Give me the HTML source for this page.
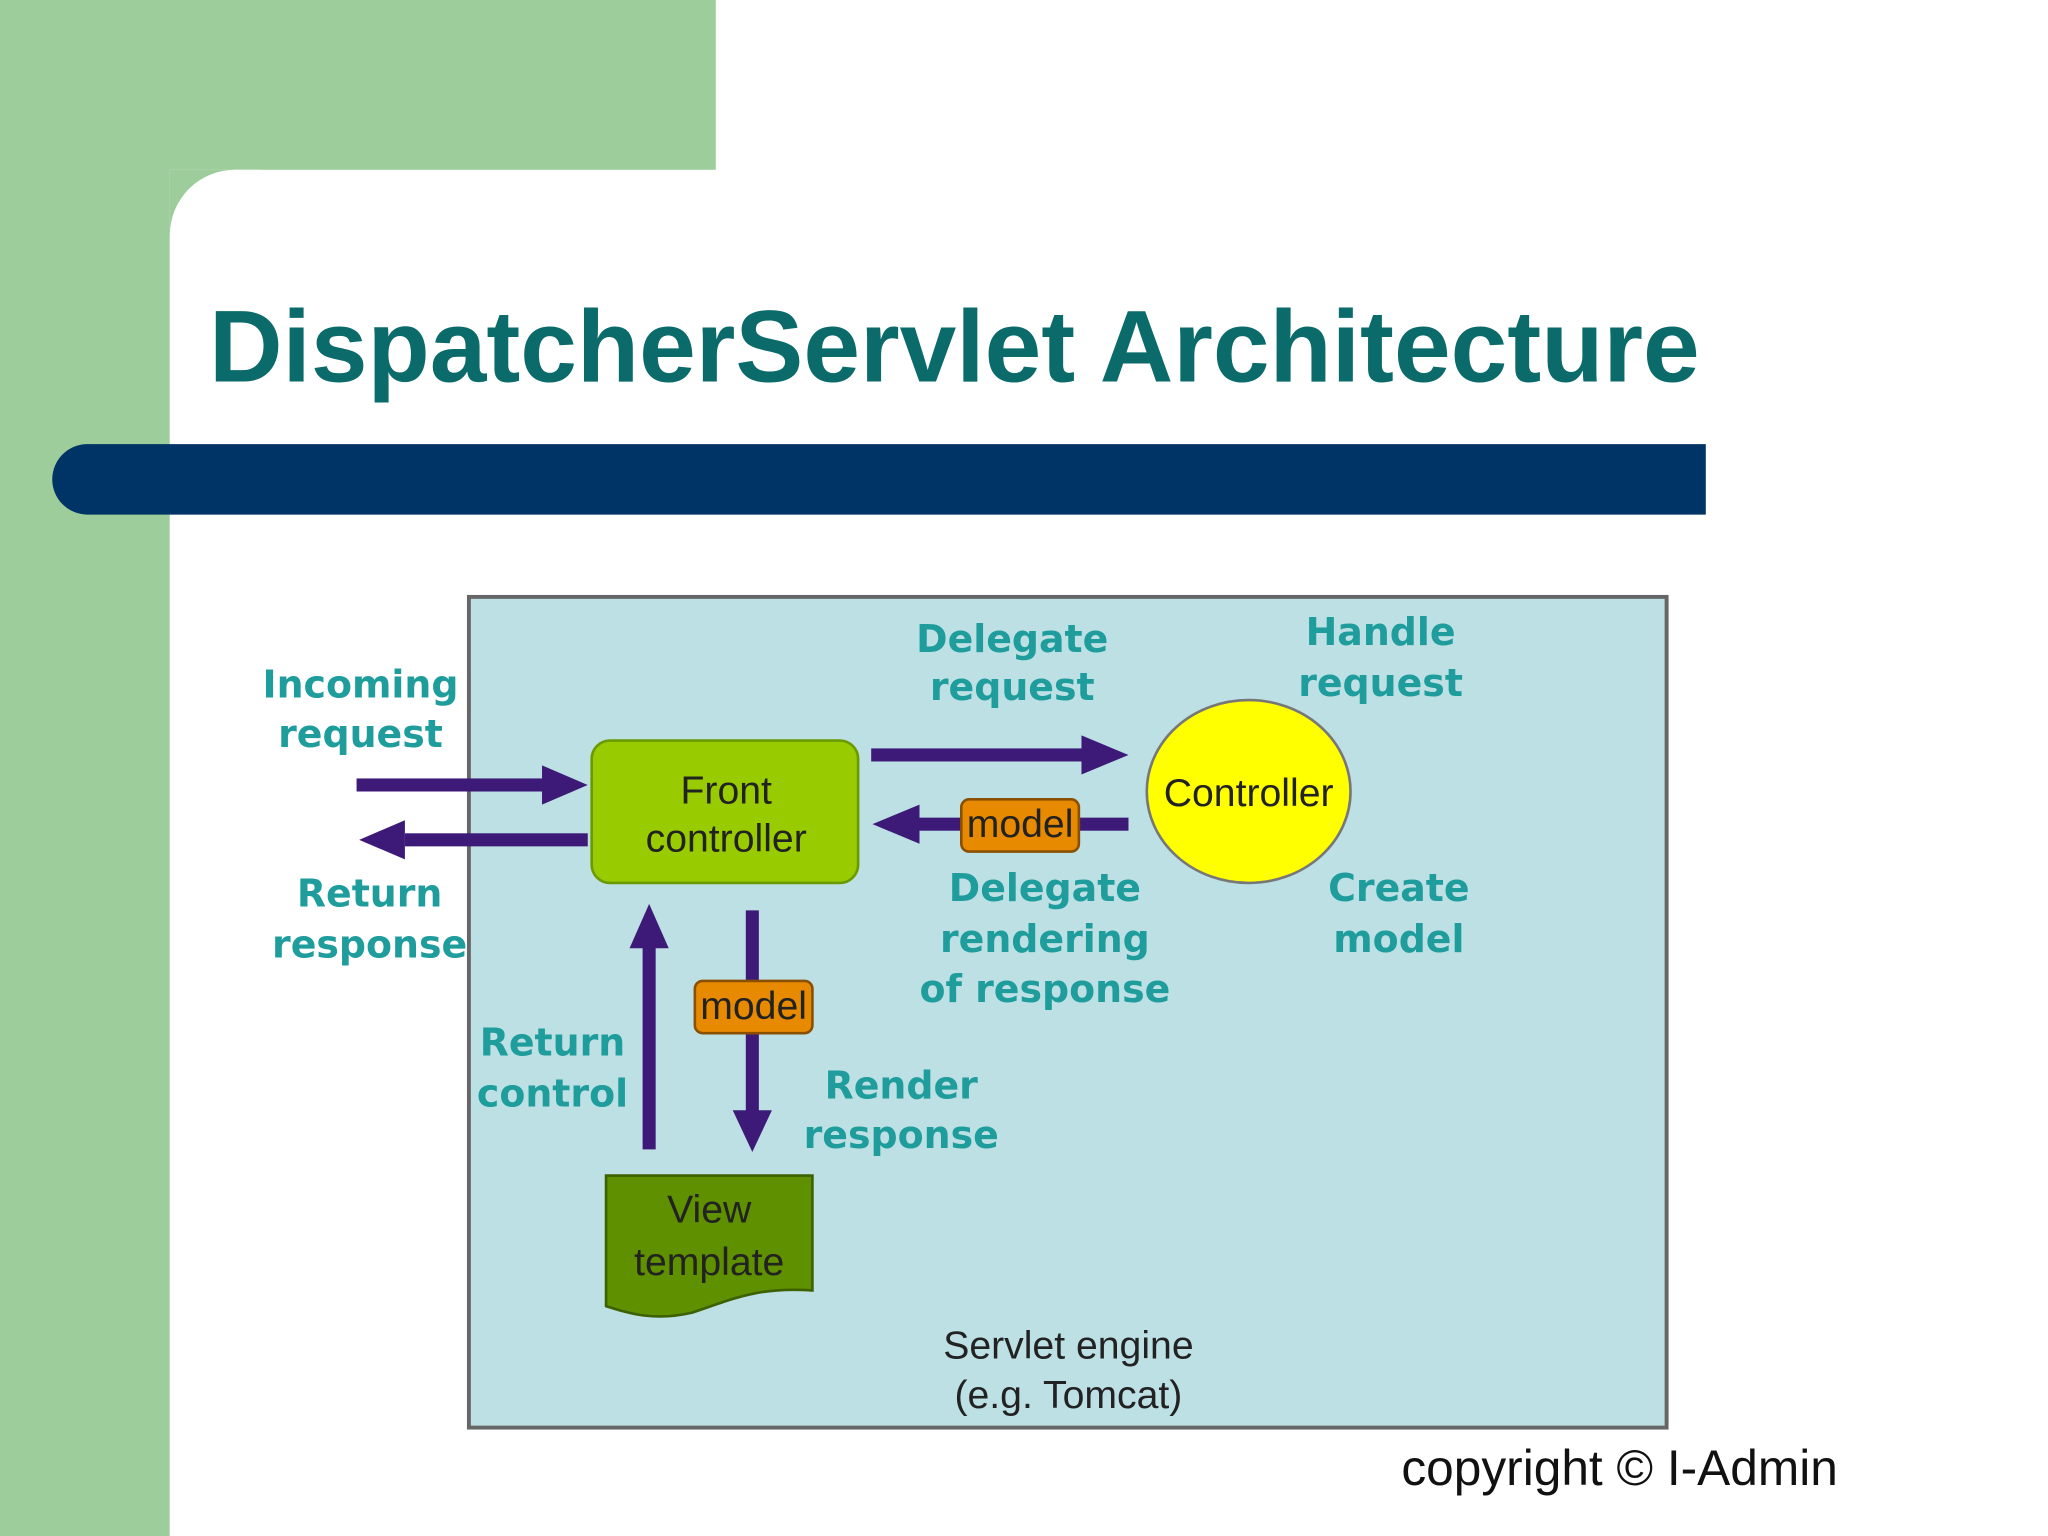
<!DOCTYPE html>
<html><head><meta charset="utf-8"><style>
html,body{margin:0;padding:0;background:#fff;}
svg{display:block;}
text{font-family:"Liberation Sans","DejaVu Sans",sans-serif;}
.lb{fill:#1f9c9c;font-weight:bold;font-size:29px;text-anchor:middle;font-family:"DejaVu Sans","Liberation Sans",sans-serif;}
.bx{fill:#222;font-size:30px;text-anchor:middle;}
</style></head><body>
<svg width="2048" height="1536" viewBox="0 0 1568 1176" xmlns="http://www.w3.org/2000/svg">
<rect x="0" y="0" width="1568" height="1176" fill="#fff"/>
<rect x="0" y="0" width="548" height="130" fill="#9ccd9a"/>
<rect x="0" y="0" width="130" height="1176" fill="#9ccd9a"/>
<path d="M130 1176 V180 A50 50 0 0 1 180 130 H200 V1176 Z" fill="#fff"/>
<path d="M130 130 H180 A50 50 0 0 0 130 180 Z" fill="#9ccd9a"/>
<text x="160" y="292" font-size="78" font-weight="bold" fill="#0b6a6a">DispatcherServlet Architecture</text>
<path d="M67 340 H1306 V394 H67 A27 27 0 0 1 67 340 Z" fill="#003366"/>
<rect x="359" y="457" width="917" height="636" fill="#bde0e4" stroke="#666" stroke-width="3"/>
<!-- front controller -->
<rect x="453" y="567" width="204" height="109" rx="14" fill="#99cc00" stroke="#6a9a00" stroke-width="2"/>
<text class="bx" x="556" y="615">Front</text>
<text class="bx" x="556" y="652">controller</text>
<ellipse cx="956" cy="606" rx="78" ry="70" fill="#ffff00" stroke="#777" stroke-width="2"/>
<text class="bx" x="956" y="617">Controller</text>
<g fill="#3d1a78">
<rect x="273" y="596" width="146" height="10"/><polygon points="415,586 450,601 415,616"/>
<rect x="310" y="638" width="140" height="10"/><polygon points="310,628 275,643 310,658"/>
<rect x="667" y="573" width="165" height="10"/><polygon points="828,563 864,578 828,593"/>
<rect x="700" y="626" width="164" height="10"/><polygon points="704,616 668,631 704,646"/>
<rect x="492" y="722" width="10" height="158"/><polygon points="482,726 497,692 512,726"/>
<rect x="571" y="697" width="10" height="155"/><polygon points="561,850 576,882 591,850"/>
</g>
<rect x="736" y="612" width="90" height="40" rx="6" fill="#e88a00" stroke="#8a5000" stroke-width="2"/>
<text class="bx" x="781" y="641" font-size="23">model</text>
<rect x="532" y="751" width="90" height="40" rx="6" fill="#e88a00" stroke="#8a5000" stroke-width="2"/>
<text class="bx" x="577" y="780" font-size="23">model</text>
<path d="M464 900 H622 V988 C580 985 560 995 530 1005 C500 1012 480 1005 464 1000 Z" fill="#5f9000" stroke="#3d6000" stroke-width="2"/>
<text class="bx" x="543" y="936">View</text>
<text class="bx" x="543" y="976">template</text>
<text class="lb" x="276" y="534">Incoming</text><text class="lb" x="276" y="572">request</text>
<text class="lb" x="283" y="694">Return</text><text class="lb" x="283" y="733">response</text>
<text class="lb" x="775" y="499">Delegate</text><text class="lb" x="775" y="536">request</text>
<text class="lb" x="1057" y="494">Handle</text><text class="lb" x="1057" y="533">request</text>
<text class="lb" x="800" y="690">Delegate</text><text class="lb" x="800" y="729">rendering</text><text class="lb" x="800" y="767">of response</text>
<text class="lb" x="1071" y="690">Create</text><text class="lb" x="1071" y="729">model</text>
<text class="lb" x="423" y="808">Return</text><text class="lb" x="423" y="847">control</text>
<text class="lb" x="690" y="841">Render</text><text class="lb" x="690" y="879">response</text>
<text class="bx" x="818" y="1040">Servlet engine</text>
<text class="bx" x="818" y="1078">(e.g. Tomcat)</text>
<text x="1240" y="1137" font-size="38" fill="#111" text-anchor="middle">copyright © I-Admin</text>
</svg>
</body></html>
